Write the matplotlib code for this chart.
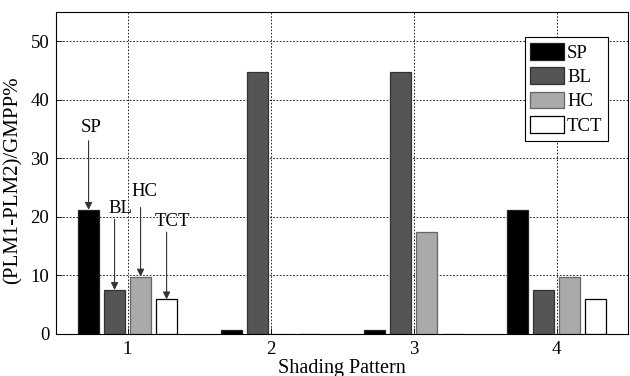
import numpy as np
from matplotlib import pyplot as plt

# %% Data.
patterns = ['1', '2', '3', '4']
methods = ['SP', 'BL', 'HC', 'TCT']
sp = [21.2, 0.7, 0.7, 21.2]
bl = [7.5, 44.8, 44.8, 7.5]
hc = [9.8, 0.0, 17.4, 9.7]
tct = [5.9, 0.0, 0.0, 5.9]

# Arrow labels for pattern 1: text position (x offset from bar, y) and arrow start y.
lbl_dx = [0.02, 0.04, 0.03, 0.04]
lbl_y = [35.2, 21.4, 24.3, 19.2]
arr_y0 = [33.0, 19.6, 21.6, 17.4]

# %% Figure.
plt.rcParams['font.family'] = ['Liberation Serif', 'DejaVu Serif']
plt.rcParams['font.size'] = 13.5

fig = plt.figure(figsize=(6.3, 3.76), dpi=100)
ax = fig.add_axes([0.089, 0.112, 0.908, 0.856])

colors = ['#000000', '#555555', '#aaaaaa', '#ffffff']
edges = ['#222222', '#333333', '#666666', '#000000']
vals = [sp, bl, hc, tct]

x = np.arange(1, len(patterns) + 1)
n = len(methods)
grp_w = n / (n + 1.5)
step = grp_w / n
bar_w = 0.8 * step

for i in range(n):
    off = (i - (n - 1) / 2) * step
    ax.bar(x + off, vals[i], width=bar_w, color=colors[i],
           edgecolor=edges[i], linewidth=0.9, label=methods[i], zorder=2)

# Arrows with labels over pattern 1:
for i in range(n):
    xc = x[0] + (i - (n - 1) / 2) * step
    ax.annotate('', xy=(xc, vals[i][0]), xytext=(xc, arr_y0[i]),
                arrowprops=dict(arrowstyle='-|>', color='#333333', lw=0.8,
                                mutation_scale=11, shrinkA=0, shrinkB=0),
                zorder=3)
    ax.text(xc + lbl_dx[i], lbl_y[i], methods[i], ha='center', va='center',
            zorder=3)

# Axis:
ax.set_xlim(0.5, 4.5)
ax.set_ylim(0, 55)
ax.set_xticks(x)
ax.set_xticklabels(patterns)
ax.set_yticks([0, 10, 20, 30, 40, 50])
ax.tick_params(direction='in', length=4, width=0.6, pad=5,
               top=False, right=False)
ax.grid(True, color='black', linestyle=(0, (2, 2)), linewidth=0.6)
ax.set_axisbelow(True)
for s in ax.spines.values():
    s.set_linewidth(0.8)

# Titles:
ax.set_xlabel('Shading Pattern', fontsize=14.5, labelpad=1)
ax.set_ylabel('(PLM1-PLM2)/GMPP%', fontsize=15)
ax.yaxis.set_label_coords(-0.058, 0.478)

leg = ax.legend(loc='upper right', bbox_to_anchor=(0.965, 0.922),
                fancybox=False, framealpha=1, edgecolor='black',
                handlelength=1.8, handleheight=1.0, handletextpad=0.15,
                labelspacing=0.3, borderpad=0.3, borderaxespad=0)
leg.get_frame().set_linewidth(0.8)

plt.savefig('out.png', dpi=100)
